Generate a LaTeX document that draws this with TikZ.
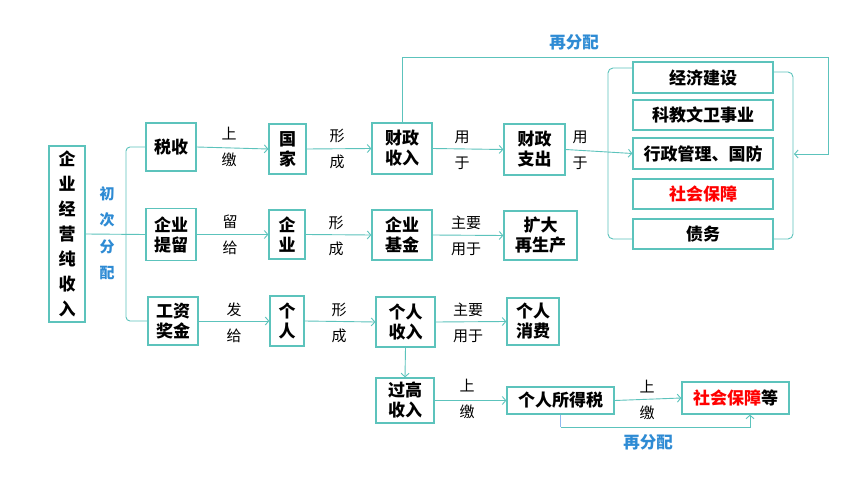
\documentclass[tikz,border=0pt]{standalone}
\usepackage{fontspec}
\setmainfont{Noto Sans CJK SC}
\usetikzlibrary{arrows.meta,calc}
\definecolor{tealc}{HTML}{5CC3BC}
\definecolor{bluec}{HTML}{2E8BD4}
\definecolor{redc}{HTML}{FF0000}
\definecolor{lblue}{HTML}{8FB8F0}
\begin{document}
\begin{tikzpicture}[x=1pt,y=-1pt,
 box/.style={draw=tealc,line width=1.3pt,fill=white,inner sep=0pt,font=\fontsize{17}{20}\selectfont\bfseries,align=center},
 lbl/.style={inner sep=0pt,font=\fontsize{15}{26}\selectfont,align=center},
 blbl/.style={inner sep=0pt,text=bluec,align=center},
 conn/.style={draw=tealc,line width=0.9pt},
 arr/.style={conn,-{Straight Barb[length=3.5pt,width=8pt]}},
]
\useasboundingbox (0,0) rectangle (860,484);
\fill[white] (0,0) rectangle (860,484);

% boxes
\node[box,minimum width=36pt,minimum height=176pt,font=\fontsize{17}{25}\selectfont\bfseries] (inc) at (67,234) {企\\业\\经\\营\\纯\\收\\入};
\node[box,minimum width=50pt,minimum height=48pt] (shui) at (171,147) {税收};
\node[box,minimum width=50pt,minimum height=52pt] (tiliu) at (171,234.5) {企业\\提留};
\node[box,minimum width=50pt,minimum height=48pt] (gongzi) at (173,321) {工资\\奖金};
\node[box,minimum width=37pt,minimum height=50pt] (guojia) at (287.5,149) {国\\家};
\node[box,minimum width=36pt,minimum height=49pt] (qiye) at (287,234.5) {企\\业};
\node[box,minimum width=34pt,minimum height=50pt] (geren) at (287,321) {个\\人};
\node[box,minimum width=60pt,minimum height=51pt] (czsr) at (402,148.5) {财政\\收入};
\node[box,minimum width=60pt,minimum height=50pt] (qyjj) at (402,235) {企业\\基金};
\node[box,minimum width=59pt,minimum height=50pt] (grsr) at (405.5,322) {个人\\收入};
\node[box,minimum width=61pt,minimum height=51pt] (czzc) at (534.5,149.5) {财政\\支出};
\node[box,minimum width=73pt,minimum height=49pt] (kuoda) at (540.5,235.5) {扩大\\再生产};
\node[box,minimum width=52pt,minimum height=47pt] (grxf) at (533,321.5) {个人\\消费};
\node[box,minimum width=58pt,minimum height=45pt] (ggsr) at (405,400.5) {过高\\收入};
\node[box,minimum width=107pt,minimum height=27pt] (grsds) at (560.5,400.5) {个人所得税};
\node[box,minimum width=107pt,minimum height=32pt] (shbzd) at (735.5,398) {\textcolor{redc}{社会保障}等};
\node[box,minimum width=140pt,minimum height=31pt] (jjjs) at (703,77.5) {经济建设};
\node[box,minimum width=140pt,minimum height=30pt] (kjww) at (703,115) {科教文卫事业};
\node[box,minimum width=140pt,minimum height=31pt] (xzgl) at (703,153.5) {行政管理、国防};
\node[box,minimum width=140pt,minimum height=30pt,text=redc] (shbz) at (703,194) {社会保障};
\node[box,minimum width=140pt,minimum height=30pt] (zw) at (703,234) {债务};

% labels
\node[lbl] (l1) at (229,147) {上\\缴};
\node[lbl] (l2) at (230,235) {留\\给};
\node[lbl] (l3) at (234,323) {发\\给};
\node[lbl] (l4) at (337,149) {形\\成};
\node[lbl] (l5) at (336,235.5) {形\\成};
\node[lbl] (l6) at (339,323) {形\\成};
\node[lbl] (l7) at (462,150.5) {用\\于};
\node[lbl] (l8) at (580,150.5) {用\\于};
\node[lbl] (l9) at (466,235.5) {主要\\用于};
\node[lbl] (l10) at (468,322.5) {主要\\用于};
\node[lbl] (l11) at (467,399) {上\\缴};
\node[lbl] (l12) at (647,400) {上\\缴};
\node[blbl,font=\fontsize{15}{26.5}\selectfont\bfseries] (cc) at (107,233) {初\\次\\分\\配};
\node[blbl,font=\fontsize{16.5}{20}\selectfont\bfseries] (zfp1) at (574,42) {再分配};
\node[blbl,font=\fontsize{16.5}{20}\selectfont\bfseries] (zfp2) at (648,442) {再分配};

% connectors
\draw[conn,rounded corners=4pt] (shui.west) -| (126,234) |- (gongzi.west);
\draw[conn] (inc.east) -- (tiliu.west);
\draw[arr] (shui.east) -- (guojia.west);
\draw[arr] (tiliu.east) -- (qiye.west);
\draw[arr] (gongzi.east) -- (geren.west);
\draw[arr] (guojia.east) -- (czsr.west);
\draw[arr] (qiye.east) -- (qyjj.west);
\draw[arr] (geren.east) -- (grsr.west);
\draw[arr] (czsr.east) -- (czzc.west);
\draw[arr] (qyjj.east) -- (kuoda.west);
\draw[arr] (grsr.east) -- (grxf.west);
\draw[arr] (czzc.east) -- (xzgl.west);
\draw[arr] (grsr.south) -- (ggsr.north);
\draw[arr] (ggsr.east) -- (grsds.west);
\draw[arr] (grsds.east) -- (shbzd.west);

% brackets
\draw[conn,rounded corners=5pt] ([yshift=9.5pt]jjjs.west) -- (608,68) -- (608,239) -- ([yshift=-5pt]zw.west);
\draw[conn,rounded corners=5pt] ([yshift=5.5pt]jjjs.east) -- (793,72) -- (793,239) -- ([yshift=-5pt]zw.east);

% top loop
\coordinate (loopc) at (828,57);
\coordinate (rbk) at (794,154);
\draw[arr] (czsr.north) |- (loopc) |- (rbk);

% bottom loop
\coordinate (bl) at (750,427);
\draw[conn,draw=lblue] (grsds.south) -- (grsds.south |- bl);
\draw[arr] (grsds.south |- bl) -- (bl) -- (bl |- shbzd.south);
\end{tikzpicture}
\end{document}
